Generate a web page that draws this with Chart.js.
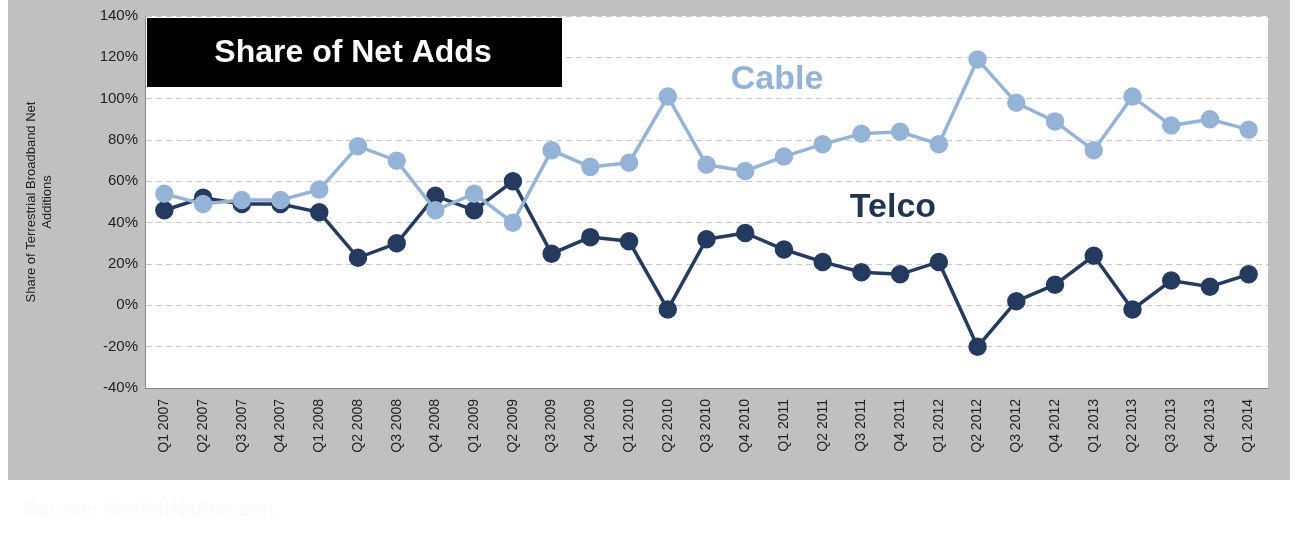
<!DOCTYPE html>
<html><head><meta charset="utf-8">
<script src="https://cdn.jsdelivr.net/npm/chart.js@4"></script>
<style>html,body{margin:0;padding:0;background:#fff;}#w{width:1299px;height:541px;}</style>
</head><body><div id="w"><canvas id="c" width="1299" height="541"></canvas></div>
<script>
const categories = ["Q1 2007","Q2 2007","Q3 2007","Q4 2007","Q1 2008","Q2 2008","Q3 2008","Q4 2008","Q1 2009","Q2 2009","Q3 2009","Q4 2009","Q1 2010","Q2 2010","Q3 2010","Q4 2010","Q1 2011","Q2 2011","Q3 2011","Q4 2011","Q1 2012","Q2 2012","Q3 2012","Q4 2012","Q1 2013","Q2 2013","Q3 2013","Q4 2013","Q1 2014"];
const cable = [54,49,51,51,56,77,70,46,54,40,75,67,69,101,68,65,72,78,83,84,78,119,98,89,75,101,87,90,85];
const telco = [46,52,49,49,45,23,30,53,46,60,25,33,31,-2,32,35,27,21,16,15,21,-20,2,10,24,-2,12,9,15];
const title = "Share of Net Adds";
const source = "Source: MoffettNathanson";

const bg = {id:'bg', beforeDraw(ch){const c=ch.ctx,a=ch.chartArea;c.save();c.fillStyle='#fff';c.fillRect(0,0,ch.width,ch.height);
 c.fillStyle='#c0c0c0';c.fillRect(8,0,1282,480);c.fillStyle='#fff';c.fillRect(a.left,a.top,a.right-a.left,a.bottom-a.top);c.restore();},
 afterDraw(ch){const c=ch.ctx,a=ch.chartArea;c.save();
 c.fillStyle='#000';c.fillRect(a.left+2,a.top+2,415,69);
 c.fillStyle='#fff';c.font='bold 32px Arial, "Liberation Sans"';c.textAlign='center';c.textBaseline='middle';c.fillText(title,353,53);
 c.font='bold 34px Arial, "Liberation Sans"';c.fillStyle='#95b3d7';c.fillText('Cable',777,80);
 c.fillStyle='#1f3552';c.fillText('Telco',893,208);
 c.font='bold 20px Arial';c.fillStyle='#fafafa';c.textAlign='left';c.fillText(source,24,510);
 c.restore();}};

new Chart(document.getElementById('c'),{type:'line',
 data:{labels:categories,datasets:[
  {label:'Cable',data:cable,borderColor:'#95b3d7',backgroundColor:'#95b3d7',borderWidth:3.5,pointRadius:7.5,pointHoverRadius:7.5,tension:0},
  {label:'Telco',data:telco,borderColor:'#243a5e',backgroundColor:'#243a5e',borderWidth:3.5,pointRadius:7.5,pointHoverRadius:7.5,tension:0}]},
 options:{responsive:false,animation:false,devicePixelRatio:1,
  layout:{padding:{left:24,right:31,top:16,bottom:0}},
  plugins:{legend:{display:false},tooltip:{enabled:false}},
  scales:{
   x:{offset:true,grid:{display:false},border:{color:'#888'},
      ticks:{color:'#222',font:{family:'Arial, "Liberation Sans"',size:14},minRotation:90,maxRotation:90,autoSkip:false},
      afterFit(s){s.height=153;}},
   y:{min:-40,max:140,ticks:{stepSize:20,color:'#222',font:{family:'Arial, "Liberation Sans"',size:15},callback:v=>v+'%'},
      grid:{color:'#c8c8c8',tickLength:4,drawTicks:true},border:{display:true,color:'#888',dash:[6,4]},
      title:{display:true,text:['Share of Terrestrial Broadband Net','Additions'],color:'#222',font:{family:'Arial, "Liberation Sans"',size:13},padding:0},
      afterFit(s){s.width=121;}}
  }},
 plugins:[bg]});
</script></body></html>
